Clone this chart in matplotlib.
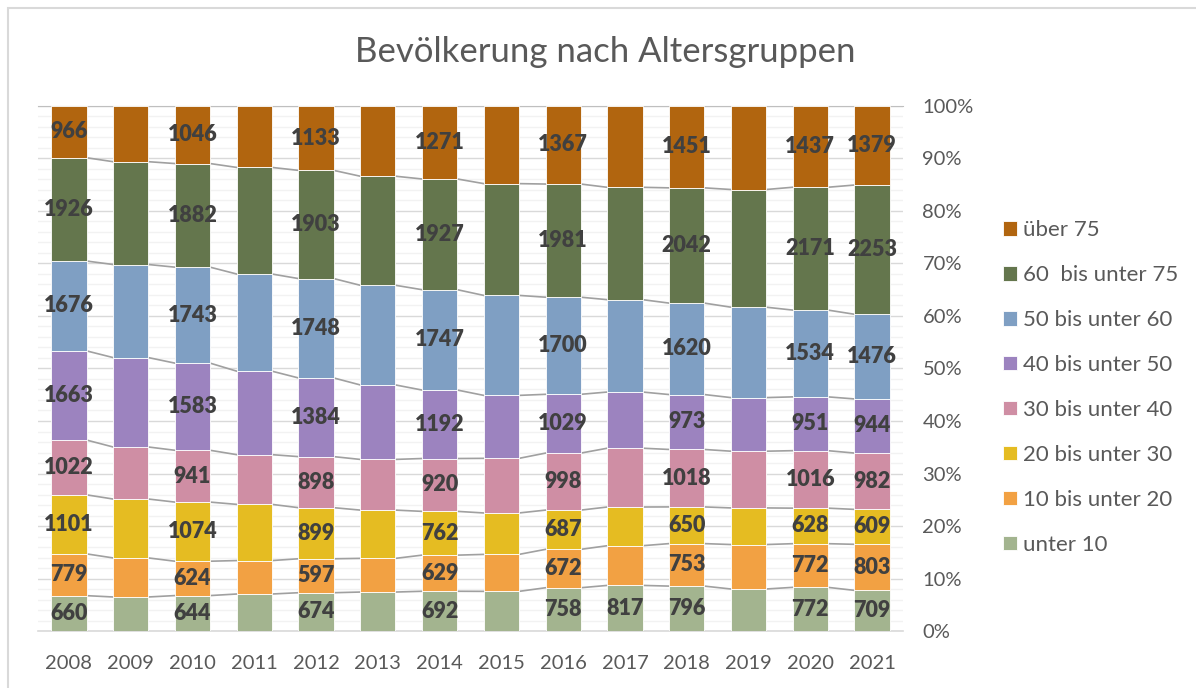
import numpy as np
import matplotlib.pyplot as plt
from matplotlib.patches import Rectangle
from matplotlib.ticker import PercentFormatter, MultipleLocator

plt.rcParams['font.family'] = ['Lato', 'DejaVu Sans']

years = [2008, 2009, 2010, 2011, 2012, 2013, 2014, 2015, 2016, 2017, 2018, 2019, 2020, 2021]

# Einwohner je Altersgruppe (ungerade Jahre ohne Beschriftung: aus Balkenhöhe geschätzt)
unter_10 = [660, 625, 644, 662, 674, 683, 692, 693, 758, 817, 796, 744, 772, 709]
b10_20 = [779, 717, 624, 598, 597, 590, 629, 646, 672, 711, 753, 787, 772, 803]
b20_30 = [1101, 1081, 1074, 1005, 899, 846, 762, 724, 687, 693, 650, 648, 628, 609]
b30_40 = [1022, 955, 941, 889, 898, 888, 920, 954, 998, 1053, 1018, 1004, 1016, 982]
b40_50 = [1663, 1641, 1583, 1493, 1384, 1305, 1192, 1100, 1029, 1006, 973, 949, 951, 944]
b50_60 = [1676, 1708, 1743, 1737, 1748, 1746, 1747, 1747, 1700, 1654, 1620, 1600, 1534, 1476]
b60_75 = [1926, 1887, 1882, 1906, 1903, 1911, 1927, 1953, 1981, 2012, 2042, 2083, 2171, 2253]
ueber_75 = [966, 1023, 1046, 1099, 1133, 1231, 1271, 1357, 1367, 1457, 1451, 1479, 1437, 1379]

labels = ['unter 10', '10 bis unter 20', '20 bis unter 30', '30 bis unter 40',
          '40 bis unter 50', '50 bis unter 60', '60  bis unter 75', 'über 75']
colors = ['#a3b48f', '#f2a143', '#e5bc22', '#cf8ea4',
          '#9c83bf', '#7f9fc3', '#64764d', '#b1650f']

# Jahre mit Datenbeschriftung
labeled_years = [2008, 2010, 2012, 2014, 2016, 2018, 2020, 2021]
extra_labels = [(2017, 'unter 10')]

series = [unter_10, b10_20, b20_30, b30_40, b40_50, b50_60, b60_75, ueber_75]
data = np.array(series, dtype=float)
share = data / data.sum(axis=0)

fig = plt.figure(figsize=(11.96, 6.88), dpi=100)
fig.patches.append(Rectangle((0.0067, -0.05), 1.1, 1.038, transform=fig.transFigure,
                             fill=False, edgecolor='#d9d9d9', linewidth=1.5))
ax = fig.add_axes([0.0318, 0.0828, 0.7232, 0.7632])

x = np.arange(len(years))
width = 0.57
bottom = np.zeros(len(years))
for i, lab in enumerate(labels):
    ax.bar(x, share[i], width, bottom=bottom, color=colors[i], label=lab,
           edgecolor='white', linewidth=0.6, zorder=3)
    for j, yr in enumerate(years):
        if yr in labeled_years or (yr, lab) in extra_labels:
            ax.text(x[j], bottom[j] + share[i][j] / 2, str(series[i][j]),
                    ha='center', va='center', fontsize=15.5, fontweight='heavy',
                    color='#404040', zorder=5)
    bottom = bottom + share[i]
    # Reihenlinien zwischen den Säulen
    if i < len(labels) - 1:
        for j in range(len(years) - 1):
            ax.plot([x[j] + width / 2, x[j + 1] - width / 2], [bottom[j], bottom[j + 1]],
                    color='#a0a0a0', linewidth=1.2, zorder=2)

ax.set_xlim(-0.5, len(years) - 0.5)
ax.set_ylim(0, 1)
ax.yaxis.set_major_locator(MultipleLocator(0.1))
ax.yaxis.set_minor_locator(MultipleLocator(0.02))
ax.yaxis.set_major_formatter(PercentFormatter(1.0, decimals=0))
ax.yaxis.tick_right()
ax.tick_params(axis='y', which='both', length=0, labelsize=14.5, labelcolor='#595959', pad=14)
ax.tick_params(axis='x', length=0, labelsize=14.5, labelcolor='#595959', pad=17)
ax.set_xticks(x)
ax.set_xticklabels([str(y) for y in years])
ax.grid(axis='y', which='major', color='#d9d9d9', linewidth=1, zorder=0)
ax.grid(axis='y', which='minor', color='#f2f2f2', linewidth=1, zorder=0)
for s in ['left', 'right']:
    ax.spines[s].set_visible(False)
ax.spines['top'].set_color('#bfbfbf')
ax.spines['bottom'].set_color('#d9d9d9')
ax.spines['bottom'].set_linewidth(1.2)

fig.text(0.506, 0.924, 'Bevölkerung nach Altersgruppen', ha='center', va='center',
         fontsize=25, color='#595959')

handles, labs = ax.get_legend_handles_labels()
leg = fig.legend(handles[::-1], labs[::-1], loc='center left', bbox_to_anchor=(0.835, 0.4368),
                 frameon=False, fontsize=16, handlelength=0.63, handleheight=0.63,
                 handletextpad=0.25, labelspacing=1.12, borderaxespad=0, borderpad=0.2)
for t in leg.get_texts():
    t.set_color('#595959')

fig.savefig('out.png', dpi=100)
